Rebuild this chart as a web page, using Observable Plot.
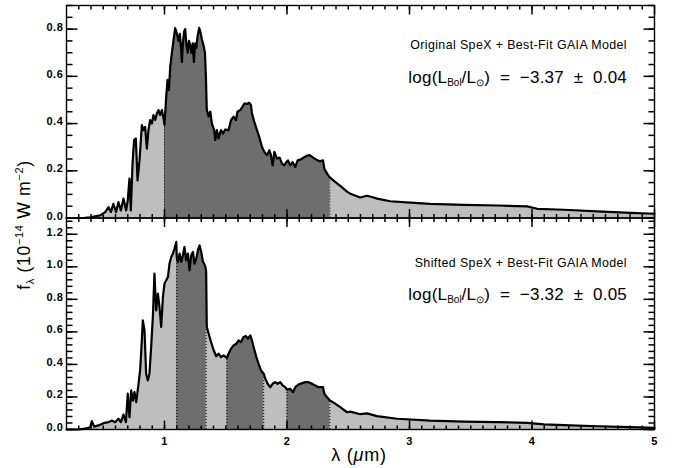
<!DOCTYPE html>
<html>
<head>
<meta charset="utf-8">
<script src="https://cdn.jsdelivr.net/npm/d3@7"></script>
<script src="https://cdn.jsdelivr.net/npm/@observablehq/plot@0.6"></script>
<style>
  html, body { margin: 0; padding: 0; background: #fff; }
  #chart { position: relative; width: 676px; height: 468px; overflow: hidden; font-family: "Liberation Sans", Arial, sans-serif; color: #000; }
  #chart svg { position: absolute; left: 0; }
  .note { position: absolute; white-space: nowrap; line-height: 1; }
  .small { font-size: 12.4px; letter-spacing: 0.4px; }
  .big { font-size: 17px; letter-spacing: 0.2px; }
  .big sub { font-size: 10px; vertical-align: -3px; letter-spacing: 0; }
  #ylab { position: absolute; left: 25px; top: 225px; transform: translate(-50%, -50%) rotate(-90deg); font-size: 17.5px; white-space: nowrap; line-height: 1; letter-spacing: 0.7px; }
  #ylab sub { font-size: 11px; vertical-align: -4px; }
  #ylab sup { font-size: 11px; vertical-align: 7px; }
  #xlab { position: absolute; left: 359px; top: 455px; transform: translate(-50%, -50%); font-size: 18px; white-space: nowrap; line-height: 1; letter-spacing: 0.8px; }
</style>
</head>
<body>
<div id="chart"></div>
<script>
// ---- Data (wavelength in µm, flux in 1e-14 W m^-2) ----
const wlTop = [0.20,0.28,0.35,0.393,0.475,0.516,0.543,0.562,0.583,0.605,
  0.624,0.644,0.665,0.687,0.70,0.714,0.725,0.739,0.752,0.766,
  0.78,0.796,0.815,0.828,0.842,0.856,0.869,0.883,0.897,0.91,
  0.924,0.938,0.951,0.965,0.979,0.992,1.0,1.014,1.025,1.036,
  1.047,1.06,1.074,1.087,1.101,1.115,1.125,1.135,1.142,1.15,
  1.16,1.169,1.178,1.19,1.20,1.21,1.22,1.23,1.24,1.25,
  1.26,1.27,1.283,1.292,1.306,1.319,1.33,1.338,1.345,1.36,
  1.374,1.387,1.406,1.414,1.428,1.441,1.461,1.477,1.496,1.523,
  1.543,1.564,1.583,1.596,1.618,1.637,1.654,1.673,1.692,1.706,
  1.714,1.733,1.755,1.777,1.796,1.815,1.837,1.856,1.869,1.883,
  1.897,1.918,1.94,1.959,1.978,1.995,2.008,2.027,2.046,2.068,
  2.087,2.109,2.137,2.164,2.185,2.213,2.24,2.266,2.294,2.305,
  2.327,2.35,2.395,2.435,2.49,2.517,2.56,2.598,2.653,2.70,
  2.735,2.844,3.007,3.17,3.443,3.716,3.961,4.042,4.26,4.533,
  4.805,5.0];
const fluxTop = [0,0,0.001,0.003,0.011,0.025,0.046,0.025,0.06,0.025,
  0.067,0.032,0.082,0.032,0.074,0.167,0.032,0.23,0.33,0.337,
  0.159,0.244,0.393,0.372,0.386,0.294,0.372,0.415,0.40,0.436,
  0.415,0.443,0.457,0.436,0.457,0.422,0.395,0.514,0.585,0.542,
  0.641,0.698,0.755,0.804,0.78,0.75,0.78,0.72,0.66,0.74,
  0.79,0.80,0.74,0.70,0.75,0.73,0.70,0.74,0.66,0.74,
  0.72,0.77,0.805,0.79,0.755,0.73,0.70,0.60,0.46,0.43,
  0.45,0.40,0.372,0.33,0.372,0.337,0.372,0.358,0.375,0.372,
  0.415,0.429,0.415,0.45,0.457,0.471,0.486,0.483,0.488,0.478,
  0.443,0.407,0.372,0.337,0.301,0.28,0.266,0.287,0.266,0.223,
  0.28,0.252,0.256,0.23,0.223,0.237,0.244,0.223,0.237,0.216,
  0.244,0.247,0.256,0.264,0.266,0.256,0.247,0.24,0.244,0.209,
  0.188,0.172,0.152,0.136,0.112,0.103,0.094,0.087,0.094,0.088,
  0.082,0.071,0.065,0.06,0.056,0.053,0.049,0.039,0.035,0.028,
  0.022,0.018];

const wlBot = [0.20,0.30,0.35,0.38,0.393,0.407,0.426,0.461,0.502,0.543,
  0.57,0.597,0.624,0.644,0.665,0.685,0.70,0.714,0.728,0.742,
  0.755,0.769,0.788,0.801,0.815,0.823,0.837,0.85,0.864,0.877,
  0.891,0.905,0.918,0.932,0.946,0.959,0.973,0.987,1.0,1.014,
  1.028,1.041,1.055,1.069,1.082,1.096,1.10,1.109,1.123,1.137,
  1.15,1.163,1.177,1.191,1.204,1.218,1.232,1.245,1.259,1.273,
  1.286,1.30,1.314,1.324,1.334,1.34,1.345,1.36,1.379,1.40,
  1.422,1.441,1.461,1.482,1.51,1.523,1.543,1.564,1.586,1.605,
  1.624,1.645,1.665,1.681,1.70,1.714,1.728,1.75,1.768,1.788,
  1.81,1.823,1.842,1.864,1.883,1.904,1.923,1.945,1.964,1.986,
  2.0,2.027,2.049,2.068,2.095,2.123,2.15,2.177,2.204,2.231,
  2.258,2.294,2.305,2.327,2.35,2.395,2.435,2.49,2.517,2.598,
  2.653,2.735,2.899,3.17,3.443,3.716,3.961,4.097,4.315,4.533,
  4.805,5.0];
const fluxBot = [0,0,0.005,0.01,0.014,0.051,0.018,0.025,0.039,0.045,
  0.055,0.045,0.066,0.045,0.092,0.045,0.22,0.076,0.24,0.178,
  0.23,0.168,0.281,0.363,0.548,0.671,0.609,0.343,0.302,0.343,
  0.506,0.691,0.958,0.732,0.835,0.753,0.63,0.814,0.897,0.917,
  0.937,1.02,1.06,1.081,1.112,1.153,1.06,1.03,1.081,1.03,
  1.071,1.122,1.04,1.081,0.978,1.071,1.091,1.02,1.05,1.102,
  1.132,1.091,1.03,1.02,1.00,0.97,0.63,0.59,0.54,0.49,
  0.45,0.466,0.445,0.455,0.441,0.466,0.497,0.517,0.527,0.548,
  0.537,0.568,0.574,0.558,0.578,0.548,0.506,0.445,0.404,0.363,
  0.343,0.312,0.281,0.26,0.281,0.291,0.281,0.291,0.271,0.26,
  0.245,0.25,0.23,0.26,0.277,0.285,0.291,0.291,0.281,0.271,
  0.26,0.26,0.22,0.199,0.178,0.158,0.137,0.106,0.11,0.094,
  0.099,0.082,0.066,0.055,0.049,0.045,0.041,0.031,0.025,0.02,
  0.014,0.01];

// integration bands (dark shading) in µm
const bandsTop = [[1.0, 2.35]];
const bandsBot = [[1.10, 1.34], [1.51, 1.81], [2.0, 2.35]];

// axis ticks
const xDomain = [0.2, 5];
const xMajor = [1, 2, 3, 4, 5];
const xMinor = d3.range(3, 50).map(i => i / 10);
const yDomainTop = [0, 0.9];
const yMajorTop = [0, 0.2, 0.4, 0.6, 0.8];
const yMinorTop = d3.range(0, 19).map(i => i * 0.05);
const yDomainBot = [0, 1.3];
const yMajorBot = [0, 0.2, 0.4, 0.6, 0.8, 1.0, 1.2];
const yMinorBot = d3.range(0, 33).map(i => i * 0.04);

// texts
const noteTop = "Original SpeX + Best-Fit GAIA Model";
const noteBot = "Shifted SpeX + Best-Fit GAIA Model";
const lumTop = ["−3.37", "0.04"];
const lumBot = ["−3.32", "0.05"];

const W = 676, ML = 66, MR = 22;
const FILL_LIGHT = "#bebebe", FILL_DARK = "#6e6e6e";
const STYLE = {background: "transparent", fontFamily: "'Liberation Sans', Arial, sans-serif", color: "black", letterSpacing: "0.6px"};

// spectrum layer: fills, band edges and curve
function spectrum({wl, flux, bands, yDomain, height, mt, mb}) {
  const data = wl.map((x, i) => ({x, y: flux[i]}));
  const edges = bands.flat().map(e => data.find(d => Math.abs(d.x - e) < 1e-9));
  return Plot.plot({
    width: W, height, marginLeft: ML, marginRight: MR, marginTop: mt, marginBottom: mb,
    x: {domain: xDomain, label: null, axis: null},
    y: {domain: yDomain, label: null, axis: null},
    style: STYLE,
    marks: [
      Plot.areaY(data, {x: "x", y: "y", fill: FILL_LIGHT}),
      ...bands.map(([a, b]) => Plot.areaY(data.filter(d => d.x >= a - 1e-9 && d.x <= b + 1e-9), {x: "x", y: "y", fill: FILL_DARK})),
      Plot.ruleX(edges, {x: "x", y1: 0, y2: "y", stroke: "black", strokeWidth: 1, strokeDasharray: "1,2"}),
      Plot.line(data, {x: "x", y: "y", stroke: "black", strokeWidth: 2.2, strokeLinejoin: "round"})
    ]
  });
}

// axes layer: frame, inward ticks on all four sides (drawn as links), tick labels
function axes({yDomain, yMajor, yMinor, xLabels, height, mt, mb}) {
  const innerW = W - ML - MR;
  const innerH = height - mt - mb;
  const ux = (xDomain[1] - xDomain[0]) / innerW;
  const uy = (yDomain[1] - yDomain[0]) / innerH;
  const [x0, x1] = xDomain, [y0, y1] = yDomain;
  const ts = {stroke: "black", strokeWidth: 1.5};
  const xt = (vals, a, b) => Plot.link(vals, {x1: d => d, x2: d => d, y1: () => a, y2: () => b, ...ts});
  const yt = (vals, a, b) => Plot.link(vals, {y1: d => d, y2: d => d, x1: () => a, x2: () => b, ...ts});
  const marks = [
    xt(xMinor, y0, y0 + 4 * uy),
    xt(xMajor, y0, y0 + 9 * uy),
    xt(xMinor, y1 - 4 * uy, y1),
    xt(xMajor, y1 - 9 * uy, y1),
    yt(yMinor, x0, x0 + 6 * ux),
    yt(yMajor, x0, x0 + 11 * ux),
    yt(yMinor, x1 - 6 * ux, x1),
    yt(yMajor, x1 - 11 * ux, x1),
    Plot.frame({stroke: "black", strokeWidth: 1.4}),
    Plot.axisY(yMajor, {tickSize: 0, tickPadding: 3, dy: -2, tickFormat: d => d.toFixed(1), label: null, fontWeight: "bold", fontSize: 11})
  ];
  if (xLabels) marks.push(Plot.axisX(xMajor, {tickSize: 0, tickPadding: 8, tickFormat: d => String(d), label: null, fontWeight: "bold", fontSize: 11}));
  return Plot.plot({
    width: W, height, marginLeft: ML, marginRight: MR, marginTop: mt, marginBottom: mb,
    x: {domain: xDomain, label: null, axis: xLabels ? undefined : null},
    y: {domain: yDomain, label: null},
    style: STYLE,
    marks
  });
}

const chart = document.getElementById("chart");
function place(svg, top) { svg.style.top = top + "px"; chart.appendChild(svg); }
// top panel: frame y=5..217.5 ; bottom panel: frame y=217.5..429
const topCfg = {wl: wlTop, flux: fluxTop, bands: bandsTop, yDomain: yDomainTop, yMajor: yMajorTop, yMinor: yMinorTop, xLabels: false, height: 230, mt: 5, mb: 12.5};
const botCfg = {wl: wlBot, flux: fluxBot, bands: bandsBot, yDomain: yDomainBot, yMajor: yMajorBot, yMinor: yMinorBot, xLabels: true, height: 252, mt: 1.5, mb: 39};
place(spectrum(botCfg), 216);
place(spectrum(topCfg), 0);
place(axes(botCfg), 216);
place(axes(topCfg), 0);

function addNote(html, cls, centerY, size) {
  const d = document.createElement("div");
  d.className = "note " + cls;
  d.innerHTML = html;
  d.style.right = "49px";
  d.style.top = (centerY - size / 2) + "px";
  chart.appendChild(d);
}
const lum = v => `log(L<sub>Bol</sub>/L<sub>⊙</sub>) &nbsp;=&nbsp; ${v[0]} &nbsp;±&nbsp; ${v[1]}`;
addNote(noteTop, "small", 45, 12.4);
addNote(lum(lumTop), "big", 77, 17);
addNote(noteBot, "small", 263, 12.4);
addNote(lum(lumBot), "big", 294, 17);

const yl = document.createElement("div");
yl.id = "ylab";
yl.innerHTML = "f<sub>λ</sub> (10<sup>−14</sup> W m<sup>−2</sup>)";
chart.appendChild(yl);
const xl = document.createElement("div");
xl.id = "xlab";
xl.innerHTML = "λ (<i>μ</i>m)";
chart.appendChild(xl);
</script>
</body>
</html>
